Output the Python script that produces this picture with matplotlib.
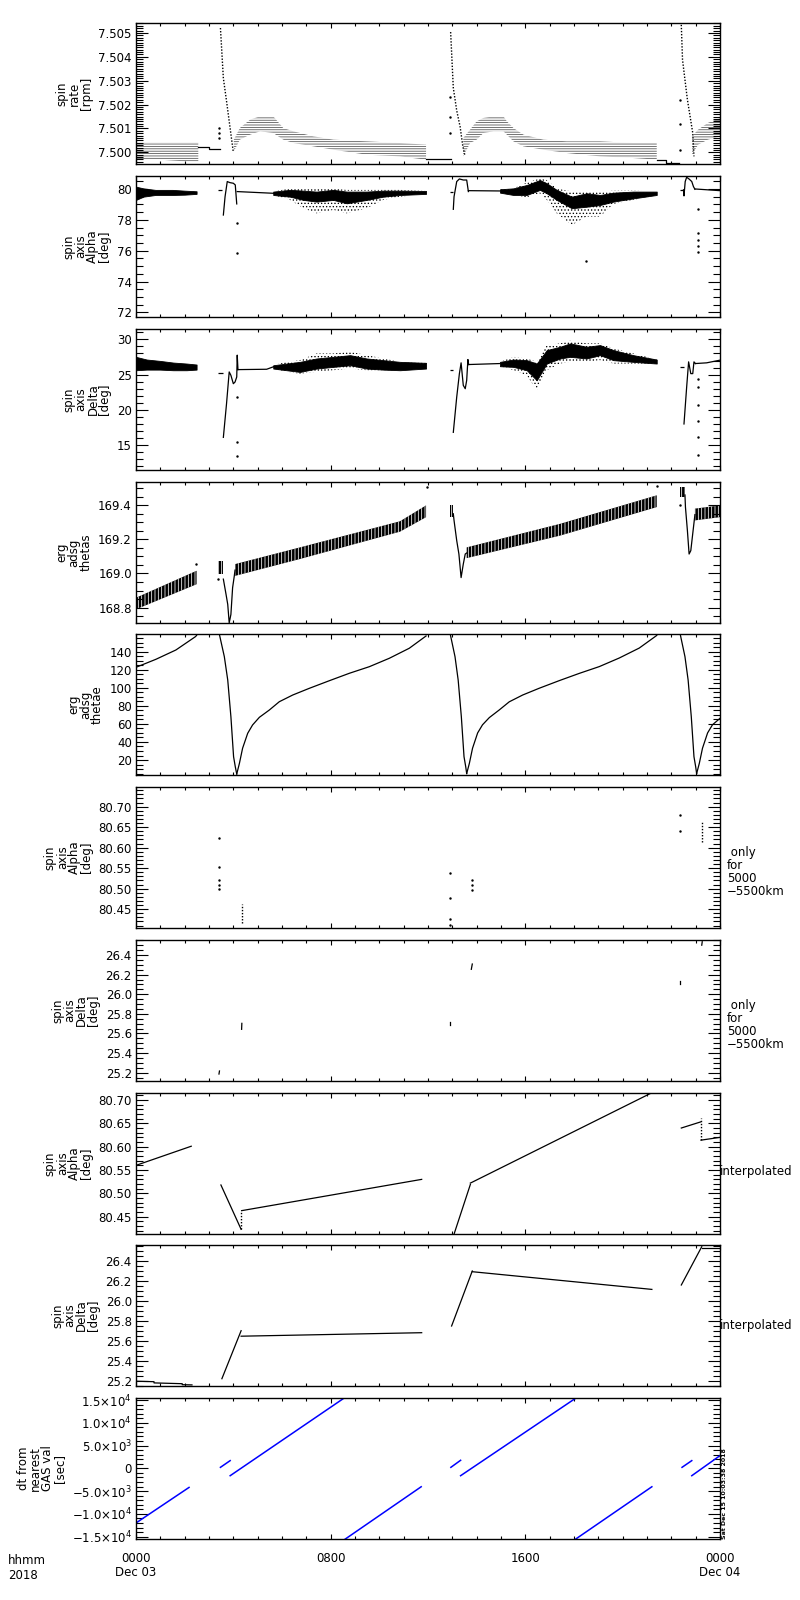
import matplotlib
matplotlib.use('Agg')
import matplotlib.pyplot as plt
from matplotlib.ticker import MultipleLocator, FormatStrFormatter, FixedLocator, FixedFormatter

plt.rcParams['font.family'] = ['DejaVu Sans']
plt.rcParams['font.size'] = 8.5
plt.rcParams['hatch.linewidth'] = 0.55
plt.rcParams['axes.linewidth'] = 1.0

# ---- time axis (hours after 2018-12-03 00:00)
xticks = [0, 8, 16, 24]
xticklabels = ['0000\nDec 03', '0800', '1600', '0000\nDec 04']

# ---- panel 1: spin rate, quantized band + spikes
rate_a_t = [0.0, 1.0, 2.0, 2.56]
rate_a_lo = [7.49969, 7.49969, 7.49962, 7.49962]
rate_a_hi = [7.50043, 7.50043, 7.50043, 7.50043]
rate_b_t = [4.02, 4.27, 4.69, 5.10, 5.64, 6.05, 6.47, 7.29, 8.11, 9.48, 10.85, 11.92]
rate_b_hi = [7.50053, 7.50102, 7.50137, 7.50151, 7.50151, 7.50102, 7.50088, 7.50067, 7.50053, 7.50046, 7.50039, 7.50032]
rate_b_lo = [7.50004, 7.50053, 7.50074, 7.50088, 7.50081, 7.50053, 7.50039, 7.50025, 7.50011, 7.49990, 7.49983, 7.49969]
rate_c_t = [13.45, 13.73, 14.0, 14.28, 14.69, 15.10, 15.24, 15.51, 15.92, 16.74, 17.70, 19.07, 20.44, 21.40]
rate_c_hi = [7.50060, 7.50095, 7.50130, 7.50144, 7.50151, 7.50151, 7.50130, 7.50102, 7.50074, 7.50053, 7.50046, 7.50046, 7.50039, 7.50039]
rate_c_lo = [7.49983, 7.50039, 7.50053, 7.50081, 7.50088, 7.50088, 7.50074, 7.50046, 7.50025, 7.50011, 7.49997, 7.49983, 7.49976, 7.49969]
rate_d_t = [22.85, 23.1, 23.5, 24.0]
rate_d_hi = [7.50067, 7.50095, 7.50123, 7.50144]
rate_d_lo = [7.49990, 7.50032, 7.50053, 7.50067]
rate_gap1_t = [2.56, 3.0, 3.0, 3.44]
rate_gap1_v = [7.50022, 7.50022, 7.50014, 7.50014]
rate_gap2_t = [11.92, 12.93]
rate_gap2_v = [7.49972, 7.49972]
rate_gap3_t = [21.40, 21.8, 21.8, 22.3]
rate_gap3_v = [7.49969, 7.49969, 7.49955, 7.49955]
rate_spike1_t = [3.47, 3.59, 3.72, 3.86, 4.0]
rate_spike1_v = [7.50521, 7.50311, 7.50215, 7.50107, 7.50000]
rate_spike2_t = [12.93, 13.04, 13.18, 13.32, 13.43, 13.52]
rate_spike2_v = [7.50504, 7.50270, 7.50175, 7.50107, 7.50026, 7.49985]
rate_spike3_t = [22.40, 22.46, 22.56, 22.66, 22.77, 22.88, 22.93]
rate_spike3_v = [7.50560, 7.50388, 7.50304, 7.50221, 7.50151, 7.50081, 7.49983]
rate_dots_t = [3.41, 3.41, 3.41, 12.90, 12.90, 12.90, 22.34, 22.34, 22.34]
rate_dots_v = [7.5010, 7.5008, 7.5006, 7.5023, 7.5015, 7.5008, 7.5022, 7.5012, 7.5001]

# ---- panel 2: spin axis alpha
alpha_a_t = [0.0, 0.3, 0.8, 1.5, 2.0, 2.49]
alpha_a_hi = [80.15, 80.04, 79.94, 79.94, 79.89, 79.85]
alpha_a_lo = [79.29, 79.50, 79.61, 79.61, 79.63, 79.68]
alpha_b_t = [5.64, 6.33, 6.88, 7.42, 8.11, 8.66, 9.48, 10.16, 10.85, 11.92]
alpha_b_hi = [79.83, 79.94, 79.89, 79.83, 79.94, 79.83, 79.83, 79.89, 79.89, 79.87]
alpha_b_lo = [79.61, 79.50, 79.29, 79.18, 79.29, 79.07, 79.29, 79.50, 79.61, 79.68]
alpha_b_shi = [79.83, 80.04, 80.04, 80.04, 80.04, 79.94, 79.94, 79.94, 79.94, 79.87]
alpha_b_slo = [79.61, 79.29, 78.75, 78.42, 78.64, 78.42, 78.75, 79.29, 79.50, 79.68]
alpha_c_t = [14.96, 15.51, 16.06, 16.60, 16.88, 17.29, 17.91, 18.52, 19.07, 19.62, 20.44, 21.40]
alpha_c_hi = [79.98, 80.04, 80.26, 80.58, 80.37, 79.94, 79.50, 79.72, 79.61, 79.76, 79.83, 79.83]
alpha_c_lo = [79.76, 79.61, 79.61, 79.94, 79.72, 79.29, 78.75, 78.85, 78.96, 79.18, 79.39, 79.61]
alpha_c_shi = [79.98, 80.04, 80.41, 80.69, 80.58, 80.04, 79.83, 79.83, 79.83, 79.89, 79.89, 79.83]
alpha_c_slo = [79.76, 79.61, 79.46, 79.72, 79.29, 78.42, 77.66, 78.21, 78.21, 79.03, 79.29, 79.61]
alpha_dash_t0 = [3.38, 12.91, 22.36]
alpha_dash_t1 = [3.52, 13.04, 22.50]
alpha_dash_v = [79.96, 79.83, 79.94]
alpha_jump1_t = [3.59, 3.66, 3.75, 3.86, 4.00, 4.08, 4.14]
alpha_jump1_v = [78.31, 79.50, 80.48, 80.41, 80.37, 80.26, 79.03]
alpha_jump2_t = [13.04, 13.07, 13.18, 13.29, 13.45, 13.59, 13.63, 13.66]
alpha_jump2_v = [78.68, 79.50, 80.48, 80.65, 80.58, 80.58, 80.15, 79.83]
alpha_jump3_t = [22.50, 22.52, 22.57, 22.63, 22.74, 22.84, 22.91, 22.97]
alpha_jump3_v = [79.94, 79.55, 80.48, 80.76, 80.63, 80.48, 80.15, 79.98]
alpha_flat1_t = [4.16, 5.64]
alpha_flat1_v = [79.83, 79.72]
alpha_flat2_t = [13.66, 14.96]
alpha_flat2_v = [79.89, 79.87]
alpha_flat3_t = [22.97, 24.0]
alpha_flat3_v = [80.00, 79.89]
alpha_dots_t = [4.16, 4.16, 18.48, 23.08, 23.08, 23.08, 23.08, 23.08]
alpha_dots_v = [77.77, 75.83, 75.33, 78.68, 77.12, 76.70, 76.30, 75.90]

# ---- panel 3: spin axis delta
delta_a_t = [0.0, 0.44, 0.98, 1.53, 2.08, 2.49]
delta_a_hi = [27.52, 27.14, 26.95, 26.71, 26.57, 26.43]
delta_a_lo = [25.62, 25.71, 25.71, 25.62, 25.62, 25.71]
delta_b_t = [5.64, 6.19, 6.74, 7.42, 8.11, 8.80, 9.48, 10.16, 10.85, 11.92]
delta_b_hi = [26.33, 26.57, 26.81, 27.29, 27.52, 27.76, 27.29, 27.05, 26.81, 26.67]
delta_b_lo = [25.86, 25.62, 25.38, 25.86, 26.10, 26.33, 25.86, 25.71, 25.62, 25.86]
delta_b_shi = [26.33, 26.81, 27.05, 28.00, 28.00, 28.24, 27.76, 27.29, 26.81, 26.67]
delta_b_slo = [25.86, 25.38, 25.14, 25.38, 25.62, 25.86, 25.62, 25.62, 25.62, 25.86]
delta_c_t = [14.96, 15.51, 16.06, 16.47, 16.88, 17.43, 17.84, 18.52, 19.07, 19.62, 20.44, 21.40]
delta_c_hi = [26.81, 27.14, 27.05, 26.57, 28.48, 28.95, 29.43, 28.95, 29.19, 28.48, 27.76, 27.14]
delta_c_lo = [26.19, 26.10, 25.62, 24.19, 26.57, 27.29, 27.52, 27.29, 27.76, 27.05, 26.81, 26.57]
delta_c_shi = [26.81, 27.52, 27.29, 26.81, 29.19, 29.43, 29.81, 29.43, 29.43, 28.71, 28.00, 27.14]
delta_c_slo = [26.19, 25.62, 24.90, 22.76, 25.62, 26.57, 26.81, 26.81, 27.05, 26.57, 26.57, 26.57]
delta_dash_t0 = [3.38, 12.91, 22.36]
delta_dash_t1 = [3.56, 13.04, 22.50]
delta_dash_v = [25.24, 25.71, 26.10]
delta_jump1_t = [3.59, 3.72, 3.83, 3.90, 4.00, 4.07, 4.14, 4.16, 4.19]
delta_jump1_v = [16.10, 20.86, 25.38, 24.90, 23.71, 23.95, 24.67, 27.76, 25.71]
delta_jump2_t = [13.04, 13.18, 13.29, 13.36, 13.45, 13.53, 13.59, 13.64, 13.67]
delta_jump2_v = [16.81, 21.81, 25.14, 26.67, 23.48, 23.00, 24.19, 27.14, 26.43]
delta_jump3_t = [22.52, 22.63, 22.71, 22.80, 22.88, 22.93, 22.99]
delta_jump3_v = [18.00, 23.24, 26.81, 25.14, 25.14, 26.81, 26.57]
delta_flat1_t = [4.19, 5.37, 5.64]
delta_flat1_v = [25.71, 25.76, 26.10]
delta_flat2_t = [13.67, 14.96]
delta_flat2_v = [26.43, 26.57]
delta_flat3_t = [22.99, 23.45, 24.0]
delta_flat3_v = [26.57, 26.67, 27.05]
delta_dots_t = [4.16, 4.16, 4.16, 23.11, 23.11, 23.11, 23.11, 23.11, 23.11]
delta_dots_v = [21.81, 15.38, 13.48, 24.43, 23.24, 20.62, 18.48, 16.10, 13.60]

# ---- panel 4: erg adsg thetas (striped band)
thetas_band_t = [[0.0, 2.49], [3.38, 3.59], [4.07, 6.74, 10.85, 11.92], [12.91, 13.04],
                 [13.59, 17.43, 21.40], [22.36, 22.56], [22.97, 24.0]]
thetas_band_lo = [[168.790, 168.937], [168.996, 168.996], [168.986, 169.085, 169.245, 169.330],
                  [169.330, 169.330], [169.090, 169.222, 169.389], [169.448, 169.448], [169.311, 169.330]]
thetas_band_hi = [[168.858, 169.016], [169.075, 169.075], [169.055, 169.153, 169.306, 169.399],
                  [169.399, 169.399], [169.153, 169.291, 169.458], [169.507, 169.507], [169.380, 169.399]]
thetas_drop1_t = [3.59, 3.70, 3.77, 3.83, 3.90, 3.97, 4.04, 4.07]
thetas_drop1_v = [168.967, 168.878, 168.819, 168.711, 168.760, 168.917, 168.986, 169.02]
thetas_drop2_t = [13.04, 13.07, 13.18, 13.27, 13.36, 13.45, 13.53, 13.59]
thetas_drop2_v = [169.35, 169.311, 169.193, 169.114, 168.976, 169.055, 169.114, 169.12]
thetas_drop3_t = [22.56, 22.58, 22.66, 22.73, 22.80, 22.91, 22.97]
thetas_drop3_v = [169.46, 169.389, 169.252, 169.114, 169.134, 169.271, 169.345]
thetas_dots_t = [2.45, 11.95, 21.42, 3.36, 22.34]
thetas_dots_v = [169.055, 169.507, 169.510, 168.97, 169.40]

# ---- panel 5: erg adsg thetae
thetae_t = [[0.0, 0.82, 1.64, 2.44, 2.49],
            [3.42, 3.63, 3.77, 3.90, 4.01, 4.08, 4.14],
            [4.14, 4.25, 4.38, 4.59, 4.79, 5.07, 5.48, 5.89, 6.44, 7.12, 7.95, 8.77, 9.59, 10.41, 11.23, 11.92],
            [12.91, 13.11, 13.24, 13.37, 13.48, 13.55, 13.59],
            [13.59, 13.70, 13.83, 14.04, 14.24, 14.52, 14.93, 15.34, 15.89, 16.57, 17.40, 18.22, 19.04, 19.86,
             20.68, 21.40],
            [22.36, 22.56, 22.69, 22.82, 22.93, 23.00, 23.04],
            [23.04, 23.15, 23.28, 23.49, 23.69, 24.0]]
thetae_v = [[122.7, 131.6, 141.9, 156.6, 158.0],
            [160.0, 134.5, 108.6, 68.0, 23.7, 12.6, 4.5],
            [4.5, 16.3, 33.0, 49.6, 58.8, 67.3, 75.4, 84.6, 92.0, 99.4, 107.9, 116.1, 123.4, 132.7, 143.8, 157.4],
            [160.0, 134.5, 108.6, 68.0, 23.7, 12.6, 5.0],
            [5.0, 16.3, 33.0, 50.0, 59.0, 67.0, 75.5, 84.5, 92.0, 99.5, 108.0, 116.0, 123.5, 133.0, 144.0, 158.0],
            [160.0, 134.5, 108.6, 68.0, 23.7, 12.6, 5.0],
            [5.0, 16.3, 33.0, 50.0, 59.0, 66.2]]

# ---- panel 6: alpha only 5000-5500 km
alpha_only_t = [3.41, 3.41, 3.41, 3.41, 3.41, 12.91, 12.91, 12.91, 12.91, 13.80, 13.80, 13.80, 22.36, 22.36]
alpha_only_v = [80.623, 80.552, 80.522, 80.510, 80.500, 80.539, 80.478, 80.427, 80.411,
                80.520, 80.508, 80.496, 80.680, 80.640]
alpha_only_vt = [4.34, 23.25]
alpha_only_vlo = [80.417, 80.614]
alpha_only_vhi = [80.462, 80.663]

# ---- panel 7: delta only 5000-5500 km (short strokes)
delta_only_t0 = [3.41, 4.34, 12.91, 13.78, 22.36, 23.25]
delta_only_t1 = [3.43, 4.35, 12.91, 13.82, 22.36, 23.27]
delta_only_v0 = [25.186, 25.642, 25.686, 26.254, 26.100, 26.500]
delta_only_v1 = [25.217, 25.703, 25.720, 26.308, 26.135, 26.535]

# ---- panel 8: alpha interpolated
alpha_int_t = [[0.0, 2.27], [3.49, 4.32], [4.34, 11.74], [12.99, 13.74],
               [13.74, 21.14], [22.41, 23.20], [23.22, 24.0]]
alpha_int_v = [[80.560, 80.601], [80.518, 80.423], [80.463, 80.530], [80.40, 80.519],
               [80.522, 80.714], [80.640, 80.653], [80.614, 80.620]]
alpha_int_jt = [4.33, 23.21]
alpha_int_jlo = [80.423, 80.614]
alpha_int_jhi = [80.463, 80.661]

# ---- panel 9: delta interpolated
delta_int_t = [[0.0, 0.74, 0.74, 1.9, 1.9, 2.3], [3.53, 4.32], [4.32, 11.74], [12.97, 13.82],
               [13.82, 21.20], [22.41, 23.25], [23.25, 24.0]]
delta_int_v = [[25.195, 25.190, 25.178, 25.170, 25.160, 25.158], [25.22, 25.70], [25.645, 25.68],
               [25.747, 26.297], [26.29, 26.113], [26.157, 26.54], [26.523, 26.523]]

# ---- panel 10: dt from nearest GAS val [sec]
dt_t = [[0.0, 2.18], [3.47, 3.87], [3.87, 8.60], [8.58, 11.72], [12.94, 13.34],
        [13.34, 18.07], [18.05, 21.20], [22.44, 22.84], [22.84, 24.0]]
dt_v = [[-12000, -4191], [221, 1691], [-1618, 15600], [-15600, -4044], [221, 1765],
        [-1618, 15400], [-15600, -4044], [221, 1691], [-1618, 2794]]
dt_ticks = [-15000, -10000, -5000, 0, 5000, 10000, 15000]
dt_ticklabels = [r'$-$1.5$\times$10$^4$', r'$-$1.0$\times$10$^4$', r'$-$5.0$\times$10$^3$', '0',
                 r'5.0$\times$10$^3$', r'1.0$\times$10$^4$', r'1.5$\times$10$^4$']

ylabels = ['spin\nrate\n[rpm]', 'spin\naxis\nAlpha\n[deg]', 'spin\naxis\nDelta\n[deg]',
           'erg\nadsg\nthetas', 'erg\nadsg\nthetae', 'spin\naxis\nAlpha\n[deg]',
           'spin\naxis\nDelta\n[deg]', 'spin\naxis\nAlpha\n[deg]', 'spin\naxis\nDelta\n[deg]',
           'dt from\nnearest\nGAS val\n[sec]']
ylims = [(7.49951, 7.50542), (71.70, 80.84), (11.47, 31.47), (168.71, 169.536), (3.4, 159.6),
         (80.404, 80.748), (25.115, 26.553), (80.413, 80.715), (25.147, 26.557), (-15515, 15441)]
ymajor = [0.001, 2, 5, 0.2, 20, 0.05, 0.2, 0.05, 0.2, 5000]
yminor = [0.0001, 0.5, 1, 0.05, 5, 0.01, 0.05, 0.01, 0.05, 1000]
yfmt = ['%.3f', '%d', '%d', '%.1f', '%d', '%.2f', '%.1f', '%.2f', '%.1f', None]

fig = plt.figure(figsize=(8, 16), dpi=100)
tops = [23, 176, 329, 482, 634, 787, 940, 1093, 1245, 1398]
axes = []
for i, top in enumerate(tops):
    ax = fig.add_axes([136/800, 1 - (top + 141)/1600, 584/800, 141/1600])
    ax.set_xlim(0, 24)
    ax.set_ylim(*ylims[i])
    ax.xaxis.set_major_locator(FixedLocator(xticks))
    ax.xaxis.set_minor_locator(MultipleLocator(1))
    ax.yaxis.set_major_locator(MultipleLocator(ymajor[i]))
    ax.yaxis.set_minor_locator(MultipleLocator(yminor[i]))
    if yfmt[i]:
        ax.yaxis.set_major_formatter(FormatStrFormatter(yfmt[i]))
    ax.tick_params(axis='x', which='both', direction='in', top=True, bottom=True, labelbottom=False)
    ax.tick_params(axis='x', which='major', length=3.3, width=0.8)
    ax.tick_params(axis='x', which='minor', length=2, width=0.8)
    ax.tick_params(axis='y', which='both', direction='in', left=True, right=True, pad=3)
    ax.tick_params(axis='y', which='major', length=8.5, width=0.8)
    ax.tick_params(axis='y', which='minor', length=5, width=0.8)
    ax.set_ylabel(ylabels[i], linespacing=0.9, labelpad=4)
    axes.append(ax)

lw = 0.9

# panel 1
ax = axes[0]
for t, lo, hi in [(rate_a_t, rate_a_lo, rate_a_hi), (rate_b_t, rate_b_lo, rate_b_hi),
                  (rate_c_t, rate_c_lo, rate_c_hi), (rate_d_t, rate_d_lo, rate_d_hi)]:
    ax.fill_between(t, lo, hi, facecolor='none', edgecolor='0.3', hatch='-------', linewidth=0)
for t, v in [(rate_gap1_t, rate_gap1_v), (rate_gap2_t, rate_gap2_v), (rate_gap3_t, rate_gap3_v)]:
    ax.plot(t, v, color='k', lw=lw)
for t, v in [(rate_spike1_t, rate_spike1_v), (rate_spike2_t, rate_spike2_v), (rate_spike3_t, rate_spike3_v)]:
    ax.plot(t, v, color='k', lw=1.0, ls=(0, (1, 1.2)))
ax.plot(rate_dots_t, rate_dots_v, 'k.', ms=1.5)

# panels 2 and 3: noisy bands
def noisy(ax, t, lo, hi, slo=None, shi=None):
    if slo is not None:
        ax.fill_between(t, slo, shi, facecolor='none', edgecolor='k', hatch='.....', linewidth=0)
    ax.fill_between(t, lo, hi, color='k', linewidth=0.6)

ax = axes[1]
noisy(ax, alpha_a_t, alpha_a_lo, alpha_a_hi)
noisy(ax, alpha_b_t, alpha_b_lo, alpha_b_hi, alpha_b_slo, alpha_b_shi)
noisy(ax, alpha_c_t, alpha_c_lo, alpha_c_hi, alpha_c_slo, alpha_c_shi)
ax.hlines(alpha_dash_v, alpha_dash_t0, alpha_dash_t1, color='k', lw=lw)
for t, v in [(alpha_jump1_t, alpha_jump1_v), (alpha_jump2_t, alpha_jump2_v), (alpha_jump3_t, alpha_jump3_v),
             (alpha_flat1_t, alpha_flat1_v), (alpha_flat2_t, alpha_flat2_v), (alpha_flat3_t, alpha_flat3_v)]:
    ax.plot(t, v, color='k', lw=lw)
ax.plot(alpha_dots_t, alpha_dots_v, 'k.', ms=1.5)

ax = axes[2]
noisy(ax, delta_a_t, delta_a_lo, delta_a_hi)
noisy(ax, delta_b_t, delta_b_lo, delta_b_hi, delta_b_slo, delta_b_shi)
noisy(ax, delta_c_t, delta_c_lo, delta_c_hi, delta_c_slo, delta_c_shi)
ax.hlines(delta_dash_v, delta_dash_t0, delta_dash_t1, color='k', lw=lw)
for t, v in [(delta_jump1_t, delta_jump1_v), (delta_jump2_t, delta_jump2_v), (delta_jump3_t, delta_jump3_v),
             (delta_flat1_t, delta_flat1_v), (delta_flat2_t, delta_flat2_v), (delta_flat3_t, delta_flat3_v)]:
    ax.plot(t, v, color='k', lw=lw)
ax.plot(delta_dots_t, delta_dots_v, 'k.', ms=1.5)

# panel 4
ax = axes[3]
for t, lo, hi in zip(thetas_band_t, thetas_band_lo, thetas_band_hi):
    ax.fill_between(t, lo, hi, facecolor='k', edgecolor='w', hatch='|||||', linewidth=0)
for t, v in [(thetas_drop1_t, thetas_drop1_v), (thetas_drop2_t, thetas_drop2_v), (thetas_drop3_t, thetas_drop3_v)]:
    ax.plot(t, v, color='k', lw=lw)
ax.plot(thetas_dots_t, thetas_dots_v, 'k.', ms=1.5)

# panel 5
ax = axes[4]
for t, v in zip(thetae_t, thetae_v):
    ax.plot(t, v, color='k', lw=lw)

# panel 6
ax = axes[5]
ax.plot(alpha_only_t, alpha_only_v, 'k.', ms=1.5)
ax.vlines(alpha_only_vt, alpha_only_vlo, alpha_only_vhi, color='k', lw=1.0, linestyles=(0, (1, 1.2)))

# panel 7
ax = axes[6]
for t0, t1, v0, v1 in zip(delta_only_t0, delta_only_t1, delta_only_v0, delta_only_v1):
    ax.plot([t0, t1], [v0, v1], color='k', lw=lw)

# panel 8
ax = axes[7]
for t, v in zip(alpha_int_t, alpha_int_v):
    ax.plot(t, v, color='k', lw=lw)
ax.vlines(alpha_int_jt, alpha_int_jlo, alpha_int_jhi, color='k', lw=1.0, linestyles=(0, (1, 1.2)))

# panel 9
ax = axes[8]
for t, v in zip(delta_int_t, delta_int_v):
    ax.plot(t, v, color='k', lw=lw)

# panel 10
ax = axes[9]
for t, v in zip(dt_t, dt_v):
    ax.plot(t, v, color='#0000ff', lw=1.1)
ax.yaxis.set_major_locator(FixedLocator(dt_ticks))
ax.yaxis.set_major_formatter(FixedFormatter(dt_ticklabels))
ax.tick_params(axis='x', which='major', labelbottom=True, pad=9)
ax.set_xticklabels(xticklabels)

# side notes
fig.text(727/800, 1 - 872/1600, ' only\nfor\n5000\n\u22125500km', ha='left', va='center', linespacing=1.0)
fig.text(727/800, 1 - 1025/1600, ' only\nfor\n5000\n\u22125500km', ha='left', va='center', linespacing=1.0)
fig.text(720/800, 1 - 1172/1600, 'interpolated', ha='left', va='center')
fig.text(720/800, 1 - 1325/1600, 'interpolated', ha='left', va='center')
fig.text(8/800, 1 - 1554/1600, 'hhmm\n2018', ha='left', va='top')
fig.text(722/800, 1 - 1539/1600, 'Sat Dec 15 10:03:38 2018', rotation=90, fontsize=4.5,
         fontweight='bold', ha='left', va='bottom')

fig.savefig('out.png', dpi=100)
